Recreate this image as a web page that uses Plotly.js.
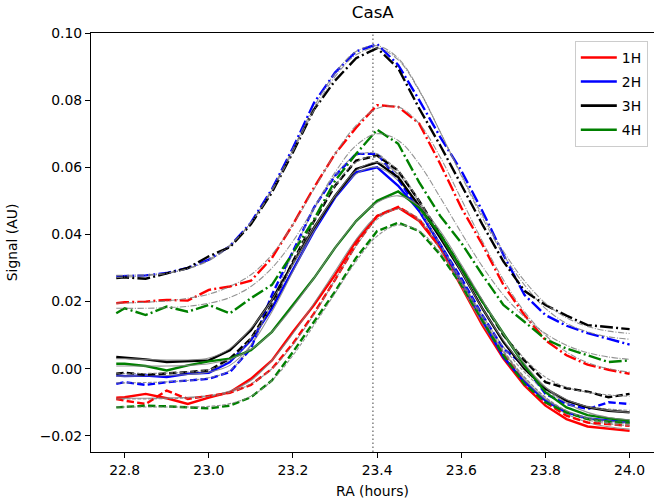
<!DOCTYPE html>
<html>
<head>
<meta charset="utf-8">
<script src="https://cdn.plot.ly/plotly-3.0.1.min.js"></script>
<style>html,body{margin:0;padding:0;background:#fff}#chart{width:654px;height:503px}</style>
</head>
<body>
<div id="chart"></div>
<script>
// ---- data ----
const ra = [22.78, 22.80, 22.85, 22.90, 22.95, 23.00, 23.05, 23.10, 23.15, 23.20, 23.25, 23.30, 23.35, 23.40, 23.45, 23.50, 23.55, 23.60, 23.65, 23.70, 23.75, 23.80, 23.85, 23.90, 23.95, 24.00];
const casA_RA = 23.39;

const h1_solid = [-0.0086, -0.0085, -0.0075, -0.0088, -0.0105, -0.0086, -0.0070, -0.0030, 0.0025, 0.0110, 0.0190, 0.0280, 0.0380, 0.0455, 0.0480, 0.0440, 0.0360, 0.0245, 0.0130, 0.0030, -0.0050, -0.0110, -0.0150, -0.0172, -0.0178, -0.0185];
const h1_dash  = [-0.0090, -0.0095, -0.0105, -0.0065, -0.0090, -0.0080, -0.0072, -0.0048, 0.0000, 0.0075, 0.0165, 0.0265, 0.0370, 0.0455, 0.0482, 0.0445, 0.0362, 0.0255, 0.0145, 0.0045, -0.0040, -0.0100, -0.0140, -0.0160, -0.0165, -0.0170];
const h1_dd    = [0.0195, 0.0198, 0.0200, 0.0205, 0.0203, 0.0235, 0.0245, 0.0262, 0.0330, 0.0430, 0.0540, 0.0640, 0.0718, 0.0785, 0.0780, 0.0730, 0.0610, 0.0480, 0.0370, 0.0250, 0.0160, 0.0085, 0.0040, 0.0012, -0.0003, -0.0015];

const h2_solid = [-0.0020, -0.0022, -0.0020, -0.0025, -0.0015, -0.0012, 0.0020, 0.0085, 0.0180, 0.0295, 0.0410, 0.0510, 0.0585, 0.0600, 0.0545, 0.0470, 0.0370, 0.0260, 0.0145, 0.0035, -0.0040, -0.0095, -0.0130, -0.0148, -0.0155, -0.0160];
const h2_dash  = [-0.0045, -0.0040, -0.0048, -0.0040, -0.0035, -0.0030, -0.0010, 0.0060, 0.0220, 0.0350, 0.0480, 0.0575, 0.0640, 0.0640, 0.0565, 0.0470, 0.0370, 0.0270, 0.0160, 0.0060, 0.0010, -0.0075, -0.0105, -0.0120, -0.0100, -0.0105];
const h2_dd    = [0.0275, 0.0276, 0.0278, 0.0285, 0.0300, 0.0325, 0.0365, 0.0435, 0.0535, 0.0658, 0.0792, 0.0882, 0.0945, 0.0967, 0.0905, 0.0800, 0.0690, 0.0590, 0.0470, 0.0340, 0.0220, 0.0160, 0.0128, 0.0106, 0.0088, 0.0072];

const h3_solid = [0.0035, 0.0033, 0.0028, 0.0020, 0.0022, 0.0025, 0.0055, 0.0115, 0.0205, 0.0315, 0.0420, 0.0515, 0.0595, 0.0615, 0.0570, 0.0485, 0.0390, 0.0290, 0.0180, 0.0080, 0.0000, -0.0060, -0.0095, -0.0115, -0.0125, -0.0130];
const h3_dash  = [-0.0015, -0.0012, -0.0018, -0.0015, -0.0010, -0.0005, 0.0030, 0.0090, 0.0190, 0.0320, 0.0440, 0.0545, 0.0620, 0.0635, 0.0590, 0.0500, 0.0400, 0.0300, 0.0200, 0.0100, 0.0025, -0.0040, -0.0058, -0.0068, -0.0085, -0.0075];
const h3_dd    = [0.0270, 0.0272, 0.0268, 0.0285, 0.0300, 0.0335, 0.0362, 0.0430, 0.0525, 0.0645, 0.0772, 0.0858, 0.0925, 0.0955, 0.0895, 0.0775, 0.0665, 0.0548, 0.0430, 0.0320, 0.0232, 0.0190, 0.0158, 0.0130, 0.0124, 0.0118];

const h4_solid = [0.0015, 0.0015, 0.0008, -0.0005, 0.0010, 0.0022, 0.0030, 0.0055, 0.0110, 0.0190, 0.0270, 0.0360, 0.0440, 0.0500, 0.0528, 0.0480, 0.0400, 0.0300, 0.0200, 0.0105, 0.0010, -0.0070, -0.0115, -0.0138, -0.0148, -0.0155];
const h4_dash  = [-0.0115, -0.0113, -0.0110, -0.0112, -0.0115, -0.0118, -0.0110, -0.0085, -0.0035, 0.0050, 0.0140, 0.0230, 0.0330, 0.0410, 0.0435, 0.0410, 0.0340, 0.0250, 0.0145, 0.0040, -0.0045, -0.0100, -0.0130, -0.0150, -0.0158, -0.0162];
const h4_dd    = [0.0165, 0.0180, 0.0160, 0.0185, 0.0170, 0.0190, 0.0165, 0.0210, 0.0250, 0.0345, 0.0445, 0.0560, 0.0640, 0.0712, 0.0670, 0.0555, 0.0455, 0.0375, 0.0280, 0.0190, 0.0140, 0.0088, 0.0060, 0.0040, 0.0020, 0.0025];

// fitted (smooth) curves
const f1_solid = [-0.0088, -0.0088, -0.0088, -0.0087, -0.0085, -0.0080, -0.0066, -0.0035, 0.0025, 0.0105, 0.0195, 0.0290, 0.0385, 0.0455, 0.0478, 0.0440, 0.0355, 0.0245, 0.0135, 0.0040, -0.0035, -0.0095, -0.0135, -0.0160, -0.0173, -0.0180];
const f1_dash  = [-0.0090, -0.0090, -0.0090, -0.0089, -0.0087, -0.0082, -0.0070, -0.0045, 0.0000, 0.0072, 0.0162, 0.0265, 0.0365, 0.0445, 0.0475, 0.0445, 0.0365, 0.0258, 0.0150, 0.0052, -0.0025, -0.0085, -0.0127, -0.0152, -0.0164, -0.0170];
const f1_dd    = [0.0195, 0.0196, 0.0198, 0.0202, 0.0210, 0.0222, 0.0245, 0.0280, 0.0340, 0.0430, 0.0535, 0.0640, 0.0725, 0.0775, 0.0780, 0.0730, 0.0630, 0.0505, 0.0380, 0.0265, 0.0170, 0.0100, 0.0050, 0.0018, 0.0000, -0.0010];
const f2_solid = [-0.0022, -0.0022, -0.0021, -0.0020, -0.0017, -0.0010, 0.0010, 0.0070, 0.0170, 0.0290, 0.0410, 0.0510, 0.0580, 0.0600, 0.0560, 0.0475, 0.0370, 0.0260, 0.0150, 0.0050, -0.0030, -0.0090, -0.0125, -0.0145, -0.0155, -0.0160];
const f2_dash  = [-0.0042, -0.0042, -0.0041, -0.0039, -0.0035, -0.0027, -0.0005, 0.0070, 0.0200, 0.0345, 0.0475, 0.0575, 0.0635, 0.0640, 0.0575, 0.0475, 0.0370, 0.0265, 0.0160, 0.0065, -0.0010, -0.0065, -0.0098, -0.0112, -0.0120, -0.0124];
const f2_dd    = [0.0278, 0.0278, 0.0280, 0.0285, 0.0298, 0.0322, 0.0365, 0.0435, 0.0535, 0.0655, 0.0780, 0.0880, 0.0945, 0.0962, 0.0925, 0.0830, 0.0705, 0.0575, 0.0450, 0.0340, 0.0250, 0.0180, 0.0135, 0.0110, 0.0095, 0.0088];
const f3_solid = [0.0030, 0.0030, 0.0028, 0.0026, 0.0026, 0.0032, 0.0060, 0.0120, 0.0205, 0.0310, 0.0420, 0.0515, 0.0590, 0.0615, 0.0580, 0.0495, 0.0395, 0.0290, 0.0180, 0.0085, 0.0005, -0.0055, -0.0092, -0.0113, -0.0124, -0.0130];
const f3_dash  = [-0.0015, -0.0015, -0.0014, -0.0013, -0.0010, -0.0003, 0.0025, 0.0090, 0.0190, 0.0315, 0.0440, 0.0545, 0.0615, 0.0632, 0.0590, 0.0500, 0.0400, 0.0300, 0.0200, 0.0105, 0.0030, -0.0025, -0.0055, -0.0070, -0.0078, -0.0082];
const f3_dd    = [0.0272, 0.0273, 0.0277, 0.0284, 0.0298, 0.0325, 0.0368, 0.0435, 0.0530, 0.0648, 0.0770, 0.0870, 0.0935, 0.0955, 0.0920, 0.0828, 0.0705, 0.0578, 0.0458, 0.0350, 0.0262, 0.0195, 0.0152, 0.0126, 0.0112, 0.0105];
const f4_solid = [0.0008, 0.0008, 0.0008, 0.0008, 0.0010, 0.0015, 0.0028, 0.0058, 0.0110, 0.0185, 0.0270, 0.0360, 0.0440, 0.0495, 0.0515, 0.0485, 0.0410, 0.0310, 0.0205, 0.0105, 0.0015, -0.0055, -0.0102, -0.0130, -0.0145, -0.0152];
const f4_dash  = [-0.0114, -0.0114, -0.0114, -0.0114, -0.0114, -0.0112, -0.0104, -0.0082, -0.0035, 0.0040, 0.0130, 0.0225, 0.0320, 0.0395, 0.0428, 0.0410, 0.0345, 0.0255, 0.0152, 0.0055, -0.0025, -0.0085, -0.0125, -0.0148, -0.0160, -0.0165];
const f4_dd    = [0.0180, 0.0180, 0.0180, 0.0182, 0.0186, 0.0195, 0.0212, 0.0245, 0.0300, 0.0380, 0.0480, 0.0585, 0.0665, 0.0700, 0.0680, 0.0610, 0.0510, 0.0405, 0.0305, 0.0220, 0.0155, 0.0105, 0.0070, 0.0048, 0.0035, 0.0028];

const horns = ["1H", "2H", "3H", "4H"];
const hornColors = ["#ff0000", "#0000ff", "#000000", "#008000"];
const yTickVals = [-0.02, 0.00, 0.02, 0.04, 0.06, 0.08, 0.10];
const yTickText = ["\u22120.02", "0.00", "0.02", "0.04", "0.06", "0.08", "0.10"];
const xTickVals = [22.8, 23.0, 23.2, 23.4, 23.6, 23.8, 24.0];
const xTickText = ["22.8", "23.0", "23.2", "23.4", "23.6", "23.8", "24.0"];

const dataSets = [
  [h1_solid, h1_dash, h1_dd], [h2_solid, h2_dash, h2_dd],
  [h3_solid, h3_dash, h3_dd], [h4_solid, h4_dash, h4_dd]
];
const fitSets = [
  [f1_solid, f1_dash, f1_dd], [f2_solid, f2_dash, f2_dd],
  [f3_solid, f3_dash, f3_dd], [f4_solid, f4_dash, f4_dd]
];

// ---- styles ----
const dataDash = ["solid", "7.4px,3.2px", "12.8px,3.2px,2px,3.2px"];
const fitDash = ["solid", "3.7px,1.6px", "6.4px,1.6px,1px,1.6px"];
const FONT = "DejaVu Sans, Liberation Sans, sans-serif";

const traces = [];
for (let h = 0; h < 4; h++) {
  for (let s = 0; s < 3; s++) {
    traces.push({
      x: ra, y: dataSets[h][s], type: "scatter", mode: "lines", showlegend: false, hoverinfo: "skip",
      line: { color: hornColors[h], width: 2.4, dash: dataDash[s] }
    });
    traces.push({
      x: ra, y: fitSets[h][s], type: "scatter", mode: "lines", showlegend: false, hoverinfo: "skip",
      line: { color: "rgba(128,128,128,0.85)", width: 1.1, dash: fitDash[s], shape: "spline" }
    });
  }
}
// legend entries
for (let h = 0; h < 4; h++) {
  traces.push({
    x: [null], y: [null], type: "scatter", mode: "lines", name: horns[h], legendgroup: horns[h],
    line: { color: hornColors[h], width: 2.6 }
  });
}

const layout = {
  width: 654, height: 503,
  margin: { l: 91, r: 0, t: 33, b: 51 },
  paper_bgcolor: "#ffffff", plot_bgcolor: "#ffffff",
  font: { family: FONT, size: 13.9, color: "#000" },
  title: { text: "CasA", font: { family: FONT, size: 16.7, color: "#000" }, x: 0.57, xanchor: "center", y: 0.975, yanchor: "middle" },
  xaxis: {
    range: [22.72, 24.058], tickvals: xTickVals, ticktext: xTickText,
    showgrid: false, zeroline: false, showline: true, linecolor: "#000", linewidth: 1, mirror: true,
    ticks: "outside", ticklen: 5, tickwidth: 1, tickcolor: "#000",
    title: { text: "RA (hours)", font: { family: FONT, size: 13.9 }, standoff: 9 }
  },
  yaxis: {
    range: [-0.0248, 0.10], tickvals: yTickVals, ticktext: yTickText,
    showgrid: false, zeroline: false, showline: true, linecolor: "#000", linewidth: 1, mirror: true,
    ticks: "outside", ticklen: 5, tickwidth: 1, tickcolor: "#000",
    title: { text: "Signal (AU)", font: { family: FONT, size: 13.9 }, standoff: 18 }
  },
  legend: {
    x: 0.989, xanchor: "right", y: 0.981, yanchor: "top",
    bgcolor: "rgba(255,255,255,0.8)", bordercolor: "#cccccc", borderwidth: 1,
    font: { family: FONT, size: 13.9, color: "#000" }, tracegroupgap: 3, itemwidth: 36
  },
  shapes: [{
    type: "line", xref: "x", yref: "paper", x0: casA_RA, x1: casA_RA, y0: 0, y1: 1,
    line: { color: "#808080", width: 1.5, dash: "1.5px,2.5px" }, layer: "below"
  }]
};

Plotly.newPlot("chart", traces, layout, { displayModeBar: false, staticPlot: true });
</script>
</body>
</html>
